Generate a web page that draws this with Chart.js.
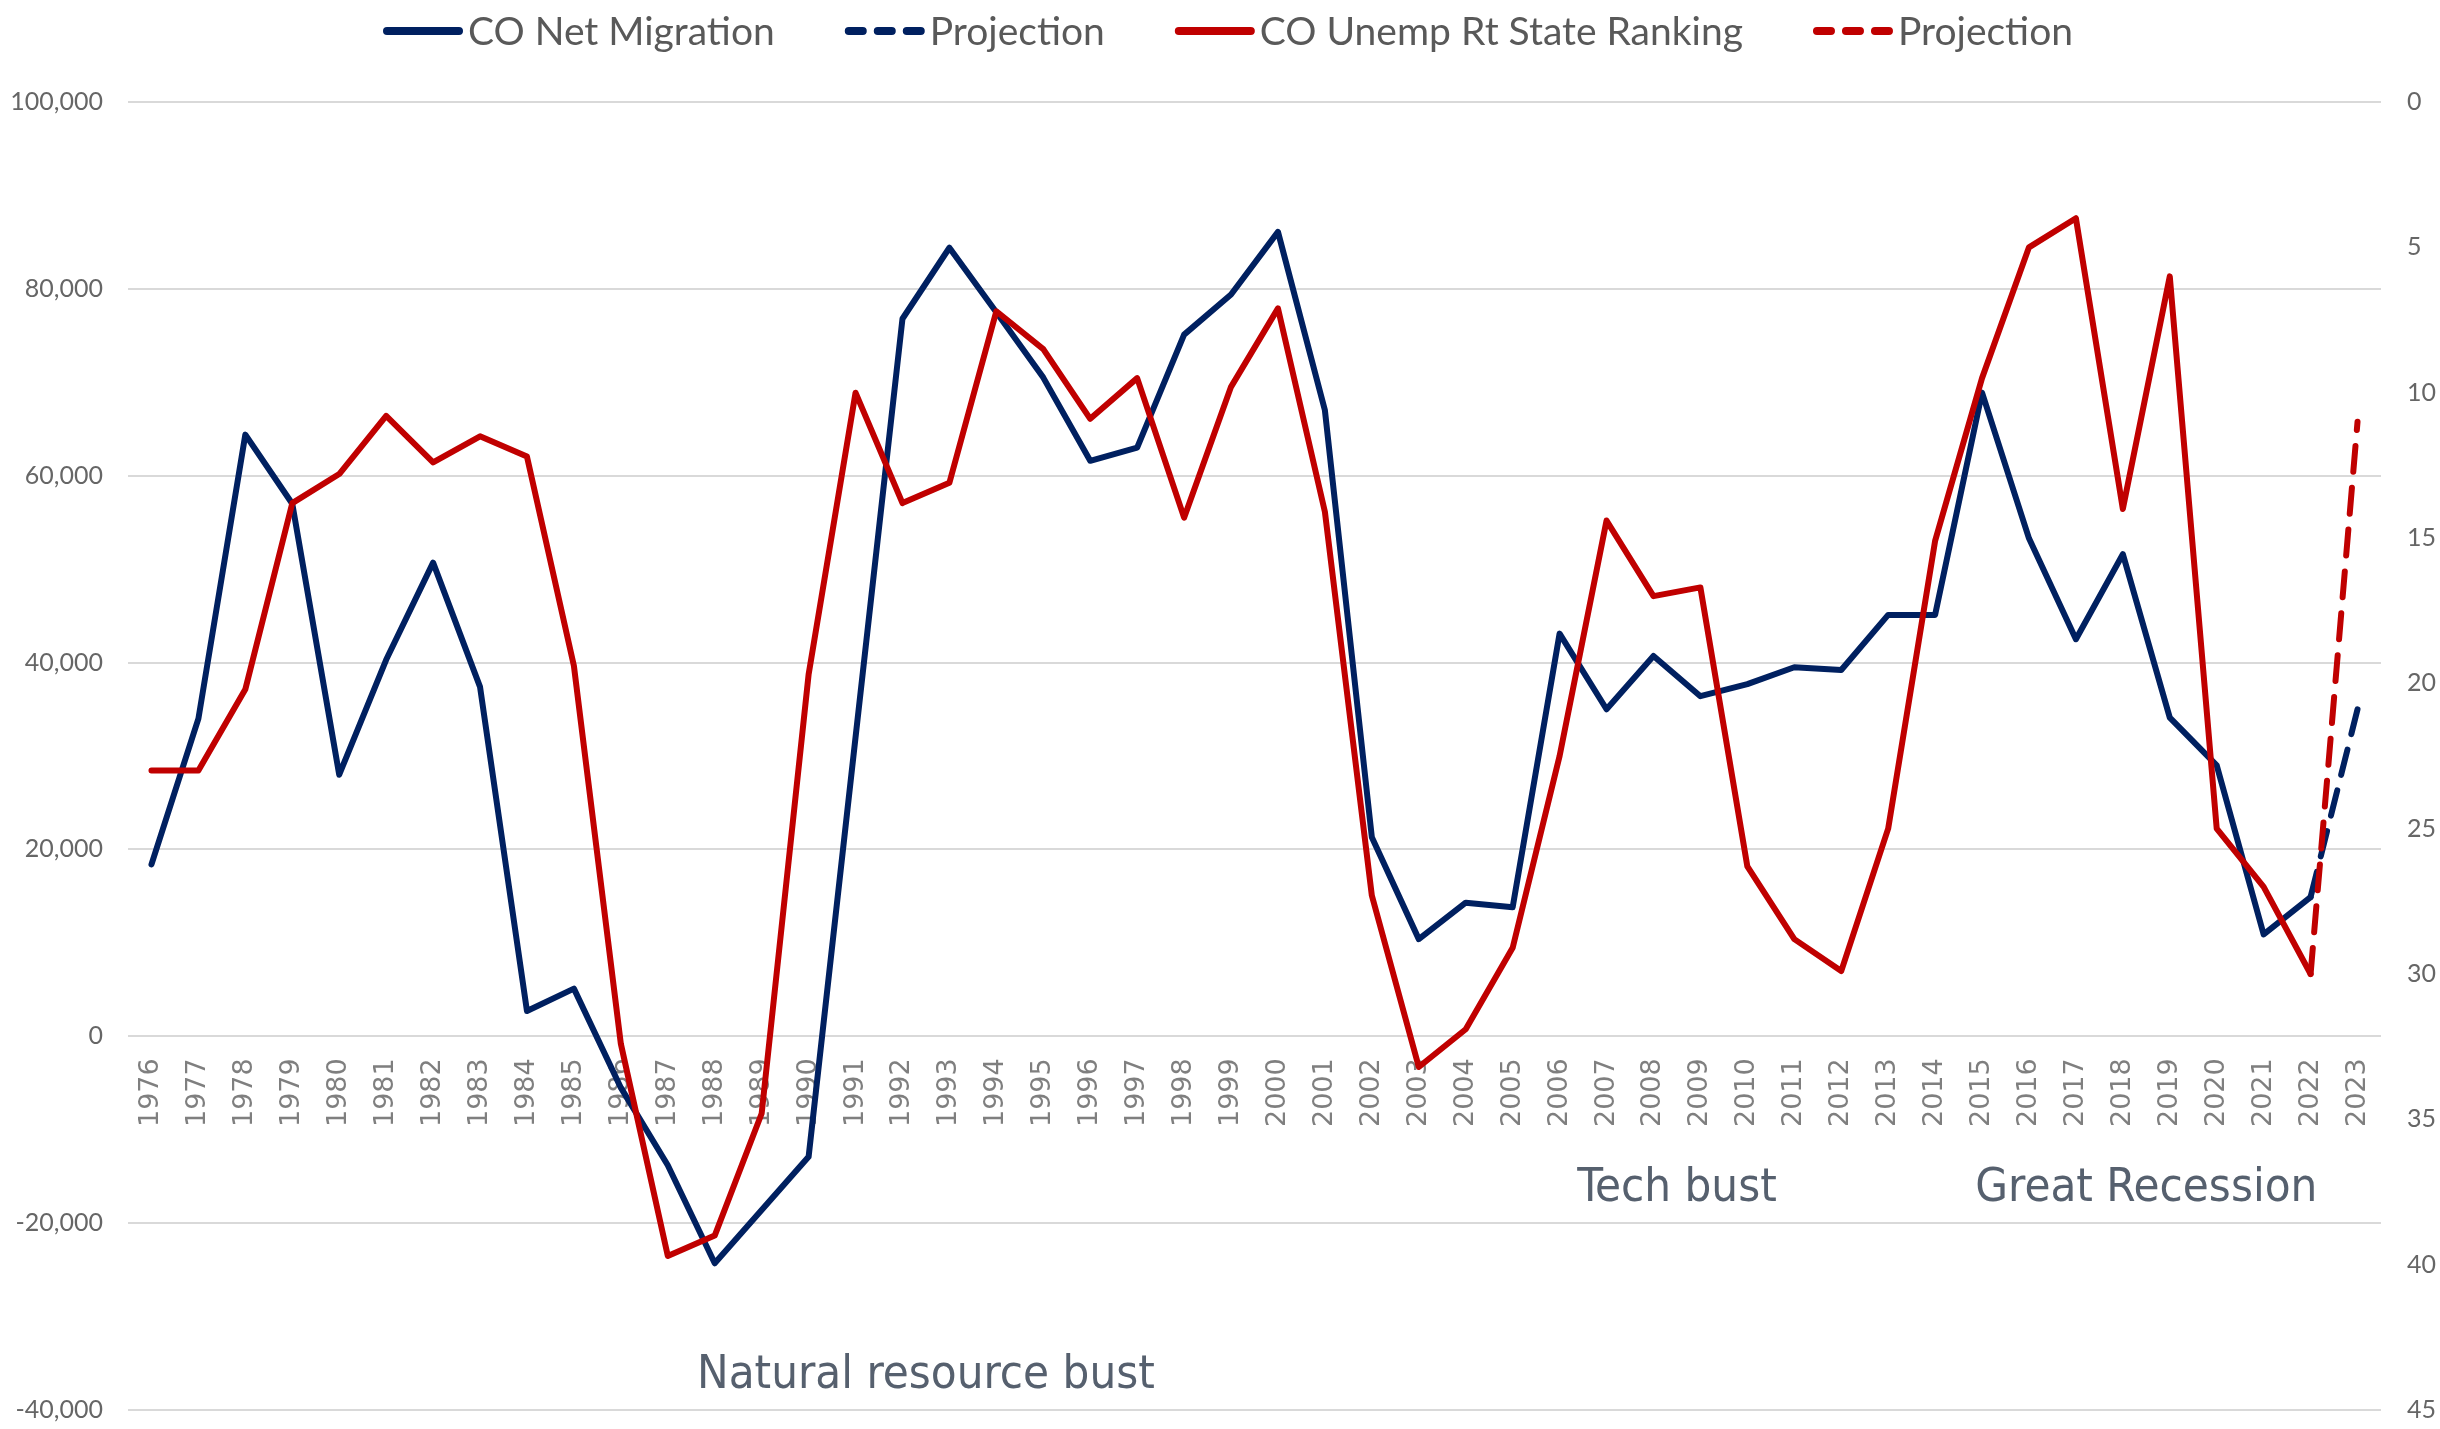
<!DOCTYPE html>
<html>
<head>
<meta charset="utf-8">
<title>CO Net Migration and Unemployment Rate State Ranking</title>
<script src="https://cdn.jsdelivr.net/npm/chart.js@4.4.1/dist/chart.umd.min.js"></script>
<style>
  html, body { margin: 0; padding: 0; background: #ffffff; }
  #wrap { width: 2440px; height: 1429px; }
</style>
</head>
<body>
<div id="wrap"><canvas id="chart"></canvas></div>
<script>
/**** data ****/

var years = [1976, 1977, 1978, 1979, 1980, 1981, 1982, 1983, 1984, 1985,
             1986, 1987, 1988, 1989, 1990, 1991, 1992, 1993, 1994, 1995,
             1996, 1997, 1998, 1999, 2000, 2001, 2002, 2003, 2004, 2005,
             2006, 2007, 2008, 2009, 2010, 2011, 2012, 2013, 2014, 2015,
             2016, 2017, 2018, 2019, 2020, 2021, 2022, 2023];

// net migration (left axis), 2023 is only projected
var netMigration = [18400, 34000, 64400, 57000, 28000, 40300, 50700, 37400, 2700, 5100,
                    -5500, -13800, -24300, -18600, -12900, 32000, 76800, 84400, 77500, 70500,
                    61600, 63000, 75100, 79400, 86100, 67000, 21300, 10400, 14300, 13800,
                    43100, 35000, 40700, 36400, 37700, 39500, 39200, 45100, 45100, 68900,
                    53300, 42500, 51600, 34100, 29000, 10900, 14900, null];

var netMigrationProj = [null, null, null, null, null, null, null, null, null, null,
                        null, null, null, null, null, null, null, null, null, null,
                        null, null, null, null, null, null, null, null, null, null,
                        null, null, null, null, null, null, null, null, null, null,
                        null, null, null, null, null, null, 14900, 35000];

// unemployment rate state ranking (right axis, reversed)
var unempRank = [23, 23, 20.2, 13.8, 12.8, 10.8, 12.4, 11.5, 12.2, 19.4,
                 32.4, 39.7, 39, 34.8, 19.7, 10, 13.8, 13.1, 7.2, 8.5,
                 10.9, 9.5, 14.3, 9.8, 7.1, 14.1, 27.3, 33.2, 31.9, 29.1,
                 22.5, 14.4, 17, 16.7, 26.3, 28.8, 29.9, 25, 15.1, 9.5,
                 5, 4, 14, 6, 25, 27, 30, null];

var unempRankProj = [null, null, null, null, null, null, null, null, null, null,
                     null, null, null, null, null, null, null, null, null, null,
                     null, null, null, null, null, null, null, null, null, null,
                     null, null, null, null, null, null, null, null, null, null,
                     null, null, null, null, null, null, 30, 11];

var migrationTicks = [-40000, -20000, 0, 20000, 40000, 60000, 80000, 100000];
var rankTicks = [0, 5, 10, 15, 20, 25, 30, 35, 40, 45];

// text notes under the lines
var notes = [
    { text: "Natural resource bust", year: 1992.5, value: -36300 },
    { text: "Tech bust",             year: 2008.5, value: -16300 },
    { text: "Great Recession",       year: 2018.5, value: -16300 }
];

var BLUE = "#002060";
var RED = "#C00000";


//**** legend drawn on top, Excel style
var topLegend = {
    id: "topLegend",
    afterDraw: function(chart) {
        var ctx = chart.ctx;
        var sets = chart.data.datasets;
        ctx.save();
        ctx.font = "39px Lato";
        var sample = 80, gap = 5, spacing = 70;
        var widths = sets.map(function(d) {
            return sample + gap + ctx.measureText(d.label).width;
        });
        var total = widths.reduce(function(a, b) { return a + b; }, 0) + spacing * (sets.length - 1);
        var x = chart.width / 2 - total / 2 + 8;
        var y = 31;
        sets.forEach(function(d, i) {
            ctx.strokeStyle = d.borderColor;
            ctx.lineWidth = 8;
            ctx.lineCap = "round";
            ctx.setLineDash(d.borderDash && d.borderDash.length ? [14, 15] : []);
            ctx.beginPath();
            ctx.moveTo(x + 4, y);
            ctx.lineTo(x + sample - 4, y);
            ctx.stroke();
            ctx.setLineDash([]);
            ctx.fillStyle = "#595959";
            ctx.textBaseline = "middle";
            ctx.textAlign = "left";
            ctx.fillText(d.label, x + sample + gap, y + 1);
            x += widths[i] + spacing;
        });
        ctx.restore();
    }
};

//**** notes placed through the scales
var noteText = {
    id: "noteText",
    afterDraw: function(chart) {
        var ctx = chart.ctx;
        var xs = chart.scales.x;
        var ys = chart.scales.y;
        ctx.save();
        ctx.font = '47px "DejaVu Sans Condensed", "DejaVu Sans"';
        ctx.fillStyle = "#56606e";
        ctx.textAlign = "center";
        ctx.textBaseline = "middle";
        notes.forEach(function(n) {
            ctx.fillText(n.text, xs.getPixelForValue(n.year - years[0]), ys.getPixelForValue(n.value));
        });
        ctx.restore();
    }
};

// keep the tick label padding from pushing the plot up
function fixSide(width) {
    return function(scale) {
        scale.width = width;
        scale.paddingTop = 15;
        scale.paddingBottom = 15;
    };
}


var ctx = document.getElementById("chart");
var chart = new Chart(ctx, {
    type: "line",
    data: {
        labels: years.map(String),
        datasets: [
            {
                label: "CO Net Migration",
                data: netMigration,
                yAxisID: "y",
                borderColor: BLUE,
                borderWidth: 6,
                order: 4
            },
            {
                label: "Projection",
                data: netMigrationProj,
                yAxisID: "y",
                borderColor: BLUE,
                borderWidth: 6,
                borderDash: [26, 16],
                order: 3
            },
            {
                label: "CO Unemp Rt State Ranking",
                data: unempRank,
                yAxisID: "y1",
                borderColor: RED,
                borderWidth: 6,
                order: 2
            },
            {
                label: "Projection",
                data: unempRankProj,
                yAxisID: "y1",
                borderColor: RED,
                borderWidth: 6,
                borderDash: [26, 16],
                order: 1
            }
        ]
    },
    options: {
        responsive: true,
        maintainAspectRatio: false,
        animation: false,
        layout: { padding: { top: 102, bottom: 19, left: 0, right: 0 } },
        elements: {
            point: { radius: 0, hoverRadius: 0 },
            line: { tension: 0, borderCapStyle: "round", borderJoinStyle: "round", fill: false }
        },
        plugins: {
            legend: { display: false },
            tooltip: { enabled: false }
        },
        scales: {
            x: {
                type: "category",
                position: { y: 0 },
                offset: true,
                grid: { display: false, drawTicks: false },
                border: { display: false },
                ticks: {
                    autoSkip: false,
                    minRotation: 90,
                    maxRotation: 90,
                    padding: 22,
                    color: "#7f7f7f",
                    font: { family: "DejaVu Sans", size: 27 }
                }
            },
            y: {
                position: "left",
                min: -40000,
                max: 100000,
                afterBuildTicks: function(scale) {
                    scale.ticks = migrationTicks.map(function(v) { return { value: v }; });
                },
                afterFit: fixSide(128),
                grid: { color: "#d9d9d9", lineWidth: 2, drawTicks: false },
                border: { display: false },
                ticks: {
                    padding: 25,
                    color: "#666666",
                    font: { family: "Lato", size: 25 },
                    callback: function(v) { return Number(v).toLocaleString("en-US"); }
                }
            },
            y1: {
                position: "right",
                reverse: true,
                min: 0,
                max: 45,
                afterBuildTicks: function(scale) {
                    scale.ticks = rankTicks.map(function(v) { return { value: v }; });
                },
                afterFit: fixSide(59),
                grid: { drawOnChartArea: false, drawTicks: false },
                border: { display: false },
                ticks: {
                    padding: 26,
                    color: "#666666",
                    font: { family: "Lato", size: 25 }
                }
            }
        }
    },
    plugins: [topLegend, noteText]
});
</script>
</body>
</html>
